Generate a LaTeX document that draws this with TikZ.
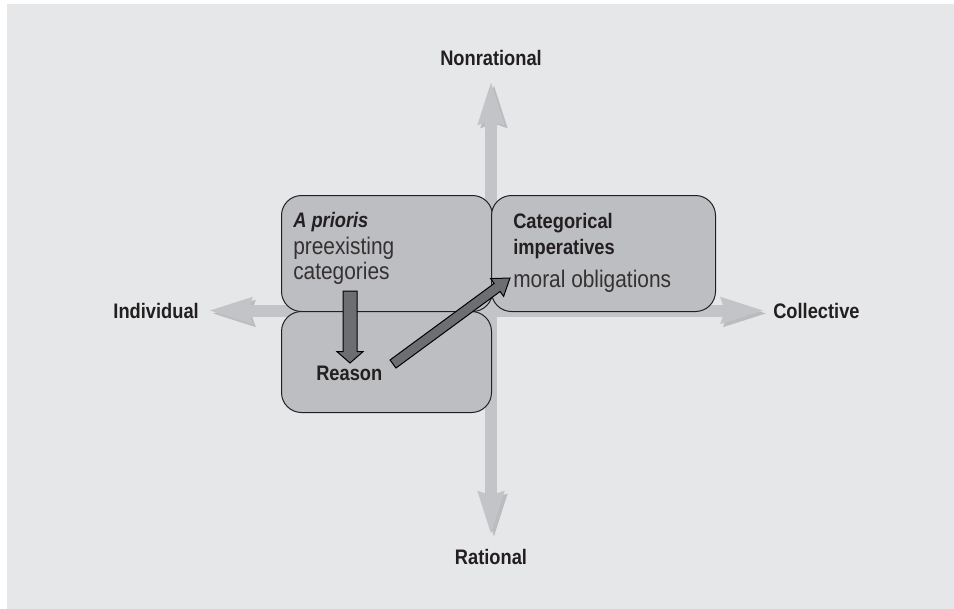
\documentclass[tikz,border=0pt]{standalone}
\usepackage{fontspec}
\setmainfont{Liberation Sans}[FakeStretch=0.87]
\usetikzlibrary{positioning,calc,arrows.meta}

\definecolor{bggray}{HTML}{E6E7E8}
\definecolor{boxgray}{HTML}{BDBEC1}
\definecolor{axisgray}{HTML}{C3C4C7}
\definecolor{axisshade}{HTML}{9FA0A3}
\definecolor{arrowgray}{HTML}{6D6E71}
\definecolor{inkgray}{HTML}{231F20}

\tikzset{
  axislabel/.style={inner sep=0pt, text=inkgray, font=\bfseries\fontsize{15.75}{18}\selectfont},
  boldtext/.style={inner sep=0pt, anchor=base west, text=inkgray, font=\bfseries\fontsize{15.75}{18}\selectfont},
  lighttext/.style={inner sep=0pt, anchor=base west, text=inkgray!92, font=\fontsize{18}{20}\selectfont},
  quadbox/.style={draw=inkgray, line width=0.75pt, fill=boxgray, rounded corners=15pt, anchor=north west, inner sep=0pt},
  axis/.style={line width=9pt, draw=axisgray,
    {Stealth[length=32pt, width=18pt, inset=2pt]}-{Stealth[length=32pt, width=18pt, inset=2pt]},
    preaction={draw=axisshade, opacity=0.6, transform canvas={shift={(2.2pt,-2.2pt)}}}},
  blockarrow/.style={fill=arrowgray, draw=black, line width=0.75pt, line join=miter}
}

% block arrow: tail, tip, half shaft, half head, head length
\newcommand{\blockarr}[5]{%
  \coordinate (hb) at ($(#2)!#5!(#1)$);
  \filldraw[blockarrow] ($(#1)!#3!90:(#2)$) -- ($(hb)!#3!90:(#2)$) -- ($(hb)!#4!90:(#2)$)
    -- (#2) -- ($(hb)!#4!-90:(#2)$) -- ($(hb)!#3!-90:(#2)$) -- ($(#1)!#3!-90:(#2)$) -- cycle;
}

\begin{document}
\begin{tikzpicture}[x=0.75pt, y=-0.75pt]
  \useasboundingbox (0,0) rectangle (954,608);
  \fill[bggray] (7,4) rectangle (956,612);

  % axis labels
  \node[axislabel, anchor=base] (nonrat) at (491,65) {Nonrational};
  \node[axislabel, anchor=base] (rat) at (491,564) {Rational};
  \node[axislabel, anchor=base east] (indiv) at (199,318) {Individual};
  \node[axislabel, anchor=base west] (coll) at (773,318) {Collective};

  % axes
  \draw[axis, shorten <=6.75pt, shorten >=6pt] (indiv.east) -- (coll.west);
  \draw[axis, shorten <=11.25pt, shorten >=9.75pt] (nonrat.south) -- (rat.north);

  % boxes
  \node[quadbox, minimum width=158.25pt, minimum height=87pt] (apri) at (281,195) {};
  \node[quadbox, minimum width=157.5pt, minimum height=75.75pt] (reasonbox) at (281,311) {};
  \node[quadbox, minimum width=168pt, minimum height=87pt] (imper) at (491,195) {};

  \node[boldtext] (apriori) at ([shift={(12,32)}]apri.north west) {\itshape A prioris};
  \node[lighttext] (preex) at ([shift={(12,59)}]apri.north west) {preexisting};
  \node[lighttext] (categ) at ([shift={(12,84)}]apri.north west) {categories};

  \node[boldtext] (categorical) at ([shift={(22,33)}]imper.north west) {Categorical};
  \node[boldtext] (imperatives) at ([shift={(22,59)}]imper.north west) {imperatives};
  \node[lighttext] (moral) at ([shift={(22,92)}]imper.north west) {moral obligations};

  \node[boldtext] (reason) at ([shift={(35,69)}]reasonbox.north west) {Reason};

  % dark arrows
  \coordinate (dtail) at (350,291);
  \coordinate (dtip) at (350,363);
  \coordinate (gtail) at (393,364);
  \coordinate (gtip) at (510,278);
  \blockarr{dtail}{dtip}{5.25pt}{9.75pt}{8.5pt}
  \blockarr{gtail}{gtip}{3.75pt}{8.25pt}{12pt}
\end{tikzpicture}
\end{document}
